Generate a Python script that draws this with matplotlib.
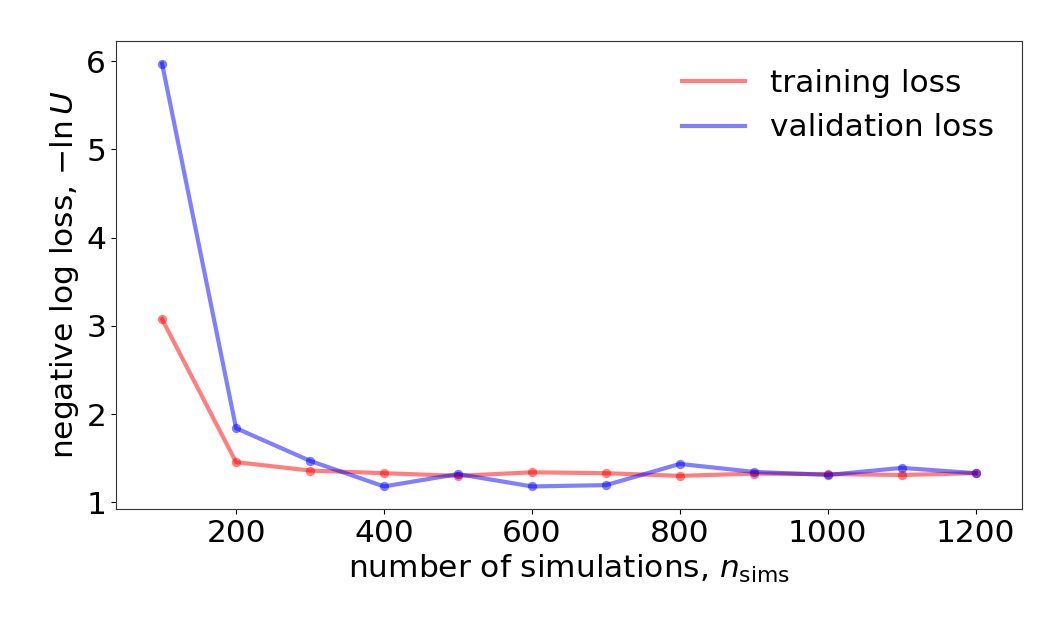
import numpy as np
import matplotlib
matplotlib.use('Agg')
import matplotlib.pyplot as plt

# number of simulations and the losses
n_sims     = [100, 200, 300, 400, 500, 600, 700, 800, 900, 1000, 1100, 1200]
train_loss = [3.075, 1.455, 1.36, 1.33, 1.30, 1.34, 1.33, 1.30, 1.325, 1.32, 1.31, 1.33]
valid_loss = [5.97, 1.84, 1.47, 1.18, 1.32, 1.18, 1.195, 1.435, 1.345, 1.31, 1.39, 1.33]

plt.rcParams['font.size'] = 22.5
plt.rcParams['mathtext.fontset'] = 'dejavusans'

fig, ax = plt.subplots(figsize=(10.63, 6.37), dpi=100)
# lines carry the legend, dots drawn on top separately
ax.plot(n_sims, train_loss, color='red', alpha=0.5, lw=3, label='training loss')
ax.plot(n_sims, valid_loss, color='blue', alpha=0.5, lw=3, label='validation loss')
ax.scatter(n_sims, train_loss, color='red', alpha=0.5, s=45, lw=0)
ax.scatter(n_sims, valid_loss, color='blue', alpha=0.5, s=45, lw=0)

ax.set_xlabel(r'number of simulations, $n_{\rm sims}$')
ax.set_ylabel(r'negative log loss, $-\ln U$')
ax.set_xticks([200, 400, 600, 800, 1000, 1200])
ax.set_yticks([1, 2, 3, 4, 5, 6])
ax.set_xlim(37.5, 1262.5)
ax.set_ylim(0.924, 6.23)
ax.legend(frameon=False, loc='upper right')

for sp in ax.spines.values():
    sp.set_color('#333333')

fig.subplots_adjust(left=0.109, right=0.9614, top=0.9361, bottom=0.2009)
fig.savefig('out.png')
plt.close()
